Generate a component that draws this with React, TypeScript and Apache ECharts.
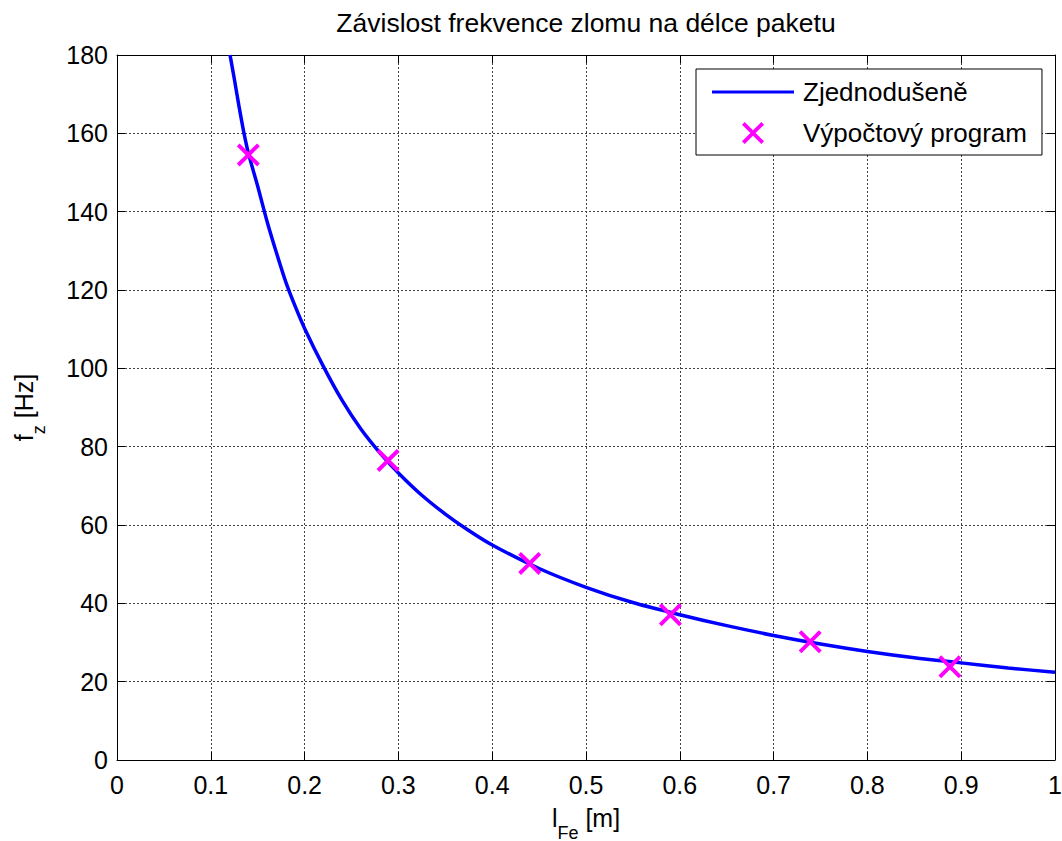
import React, { useEffect, useRef } from "react";
import * as echarts from "echarts";

// Curve "Zjednodušeně"
const curveL = [0.1205, 0.125, 0.13, 0.135, 0.14, 0.15, 0.16, 0.17, 0.18, 0.19, 0.2, 0.22, 0.24, 0.26, 0.28, 0.3, 0.325, 0.35, 0.375, 0.4, 0.45, 0.5, 0.55, 0.6, 0.65, 0.7, 0.75, 0.8, 0.85, 0.9, 0.95, 1.0];
const curveF = [180, 174, 167, 160.5, 155, 146.5, 137.5, 129.5, 122, 115.8, 110.2, 100.5, 91.8, 84.5, 78.5, 73.3, 67.6, 62.8, 58.6, 54.9, 48.9, 44.1, 40.2, 37.1, 34.3, 31.8, 29.6, 27.7, 26.1, 24.8, 23.5, 22.4];

// Points "Výpočtový program"
const markL = [0.14, 0.289, 0.44, 0.59, 0.739, 0.888];
const markF = [154.5, 76.5, 50.2, 37.1, 30.2, 23.8];

const seriesNames = ["Zjednodušeně", "Výpočtový program"];
const titleText = "Závislost frekvence zlomu na délce paketu";

const X_MIN = 0, X_MAX = 1, X_STEP = 0.1;
const Y_MIN = 0, Y_MAX = 180, Y_STEP = 20;

const FONT = "'Liberation Sans', Arial, Helvetica, sans-serif";
const CROSS = "path://M0,1.2 L1.2,0 L5,3.8 L8.8,0 L10,1.2 L6.2,5 L10,8.8 L8.8,10 L5,6.2 L1.2,10 L0,8.8 L3.8,5 Z";
const LINE_ICON = "path://M0,0 L82,0 L82,3 L0,3 Z";

export default function App() {
  const ref = useRef<HTMLDivElement>(null);
  useEffect(() => {
    if (!ref.current) return;
    const chart = echarts.init(ref.current, undefined, { renderer: "svg" });
    const tickStyle = { inside: true, length: 8, lineStyle: { color: "#000", width: 1 } };
    const axisLine = { show: true, onZero: false, lineStyle: { color: "#000", width: 1 } };
    const split = { show: true, lineStyle: { color: "#444", width: 1, type: [2, 2] } };
    const labelStyle = { color: "#000", fontSize: 25, fontFamily: FONT };
    const rich = {
      m: { fontSize: 25, fontFamily: FONT, color: "#000", lineHeight: 28, verticalAlign: "top" },
      s: { fontSize: 18, fontFamily: FONT, color: "#000", lineHeight: 55, verticalAlign: "middle" },
    };
    chart.setOption({
      animation: false,
      backgroundColor: "#fff",
      textStyle: { fontFamily: FONT },
      title: {
        text: titleText,
        left: 586,
        top: 9,
        padding: 0,
        textAlign: "center",
        textStyle: { color: "#000", fontSize: 26.5, fontWeight: "normal", fontFamily: FONT },
      },
      legend: {
        orient: "vertical",
        left: 696,
        top: 69,
        padding: [10, 15, 9, 16],
        itemGap: 15,
        itemWidth: 82,
        itemHeight: 22,
        borderColor: "#000",
        borderWidth: 1,
        borderRadius: 0,
        backgroundColor: "#fff",
        textStyle: { color: "#000", fontSize: 26, fontFamily: FONT, padding: [0, 0, 0, 4] },
        data: [
          { name: seriesNames[0], icon: LINE_ICON },
          { name: seriesNames[1], icon: CROSS },
        ],
      },
      grid: { left: 117, right: 7, top: 55, bottom: 81, containLabel: false, outerBoundsMode: "none" },
      xAxis: [
        {
          type: "value",
          min: X_MIN,
          max: X_MAX,
          interval: X_STEP,
          position: "bottom",
          axisLine,
          axisTick: tickStyle,
          axisLabel: { ...labelStyle, margin: 12 },
          splitLine: split,
          name: "{m|l}{s|Fe}{m| [m]}",
          nameLocation: "middle",
          nameGap: 45,
          nameTextStyle: { rich },
        },
        {
          type: "value",
          min: X_MIN,
          max: X_MAX,
          interval: X_STEP,
          position: "top",
          axisLine,
          axisTick: tickStyle,
          axisLabel: { show: false },
          splitLine: { show: false },
        },
      ],
      yAxis: [
        {
          type: "value",
          min: Y_MIN,
          max: Y_MAX,
          interval: Y_STEP,
          position: "left",
          axisLine,
          axisTick: tickStyle,
          axisLabel: { ...labelStyle, margin: 9 },
          splitLine: split,
          name: "{m|f}{s|z}{m| [Hz]}",
          nameLocation: "middle",
          nameRotate: 90,
          nameGap: 51,
          nameTextStyle: { rich },
        },
        {
          type: "value",
          min: Y_MIN,
          max: Y_MAX,
          interval: Y_STEP,
          position: "right",
          axisLine,
          axisTick: tickStyle,
          axisLabel: { show: false },
          splitLine: { show: false },
        },
      ],
      series: [
        {
          name: seriesNames[0],
          type: "line",
          xAxisIndex: 0,
          yAxisIndex: 0,
          data: curveL.map((l, i) => [l, curveF[i]]),
          showSymbol: false,
          symbol: "none",
          smooth: 0.3,
          lineStyle: { color: "#0000ff", width: 3.5 },
          itemStyle: { color: "#0000ff" },
          z: 3,
        },
        {
          name: seriesNames[1],
          type: "scatter",
          xAxisIndex: 0,
          yAxisIndex: 0,
          data: markL.map((l, i) => [l, markF[i]]),
          symbol: CROSS,
          symbolSize: 23,
          symbolKeepAspect: true,
          itemStyle: { color: "#ff00ff", opacity: 1 },
          z: 4,
        },
      ],
    });
    return () => chart.dispose();
  }, []);
  return (
    <div
      ref={ref}
      style={{ position: "fixed", left: 0, top: 0, width: 1062, height: 841, background: "#fff" }}
    />
  );
}
